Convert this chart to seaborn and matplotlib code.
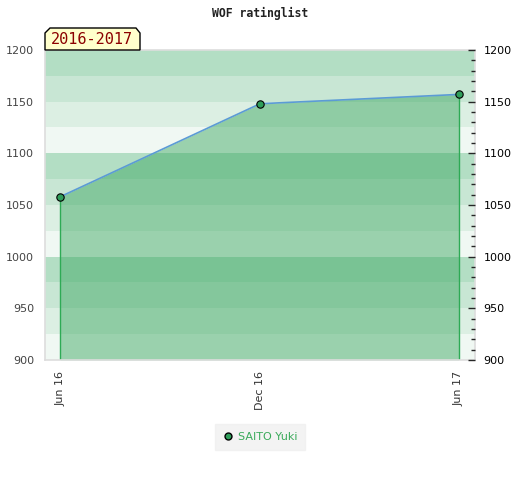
import pandas as pd
import numpy as np
import matplotlib
matplotlib.use("Agg")
import matplotlib.pyplot as plt
from matplotlib.patches import Polygon
from matplotlib.ticker import MultipleLocator
import seaborn as sns

# data
dates = ["2016-06-01", "2016-12-01", "2017-06-01"]
ratings = [1058, 1148, 1157]
player = "SAITO Yuki"
season = "2016-2017"
tick_labels = ["Jun 16", "Dec 16", "Jun 17"]

df = pd.DataFrame({"date": pd.to_datetime(dates), "rating": ratings, "player": player})

sns.set_style("white")
plt.rcParams["font.family"] = ["DejaVu Sans"]

fig = plt.figure(figsize=(5.2, 4.8), dpi=100)
ax = fig.add_axes([45 / 520, 120 / 480, 430 / 520, 310 / 480])

ymin, ymax = 900, 1200
ax.set_ylim(ymin, ymax)
ax.set_xlim(pd.Timestamp("2016-05-18"), pd.Timestamp("2017-06-16"))

# banded background, 4 shades per 100 points
band_cols = ["#f0f8f3", "#dcefe3", "#c8e6d4", "#b3dec4"]
for i, lo in enumerate(range(ymin, ymax, 25)):
    ax.axhspan(lo, lo + 25, color=band_cols[i % 4], lw=0, zorder=0)

# area under the line
ax.fill_between(df["date"], df["rating"], ymin, color="#39a55e", alpha=0.47, lw=0, zorder=1)
ax.vlines([df["date"].iloc[0], df["date"].iloc[-1]], ymin,
          [df["rating"].iloc[0], df["rating"].iloc[-1]], color="#2eaa55", lw=1, zorder=2)
sns.lineplot(data=df, x="date", y="rating", ax=ax, color="#5b9bd5", lw=1.2, zorder=3)
sns.scatterplot(data=df, x="date", y="rating", ax=ax, color="#2e9e5a", edgecolor="black",
                linewidth=0.8, s=28, zorder=4, legend=False)

ax.set_xlabel("")
ax.set_ylabel("")
ax.set_xticks(df["date"])
ax.set_xticklabels(tick_labels, rotation=90, fontsize=8, color="#333333")
ax.yaxis.set_major_locator(MultipleLocator(50))
ax.tick_params(axis="y", length=0, labelsize=8, labelcolor="#444444", pad=8)
ax.tick_params(axis="x", length=0, pad=8)
for s in ax.spines.values():
    s.set_color("#dddddd")
    s.set_linewidth(1.2)

ax2 = ax.twinx()
ax2.set_ylim(ymin, ymax)
ax2.yaxis.set_major_locator(MultipleLocator(50))
ax2.yaxis.set_minor_locator(MultipleLocator(10))
ax2.tick_params(axis="y", which="major", direction="in", length=5, width=1, labelsize=8,
                labelcolor="black", pad=6)
ax2.tick_params(axis="y", which="minor", direction="in", length=3, width=1)
for s in ax2.spines.values():
    s.set_visible(False)

# title
fig.text(0.5, 1 - 13 / 480, "WOF ratinglist", ha="center", va="center",
         family="DejaVu Sans Mono", fontweight="bold", fontsize=8.3, color="#222222")

# season tag with cut corners
W, H = 520.0, 480.0
pts = [(45, 50), (45, 33), (50, 28), (136, 28), (140, 33), (140, 50)]
tag = Polygon([(x / W, 1 - y / H) for x, y in pts], closed=True, transform=fig.transFigure,
              facecolor="#ffffcc", edgecolor="black", lw=1, zorder=10)
fig.patches.append(tag)
fig.text(92 / W, 1 - 40 / H, season, ha="center", va="center", family="DejaVu Sans Mono",
         fontsize=11, color="#8b0000", zorder=11)

# legend
leg = fig.legend(handles=[plt.Line2D([], [], marker="o", ls="", markerfacecolor="#2e9e5a",
                                     markeredgecolor="black", markersize=5, label=player)],
                 loc="center", bbox_to_anchor=(260 / W, 1 - 437 / H), frameon=True,
                 fontsize=8, handletextpad=0.4, borderpad=0.4, handlelength=1.0)
leg.get_frame().set_facecolor("#f0f0f0")
leg.get_frame().set_edgecolor("#f0f0f0")
leg.get_frame().set_boxstyle("square")
for t in leg.get_texts():
    t.set_color("#3aaa5a")

fig.savefig("out.png", dpi=100)
